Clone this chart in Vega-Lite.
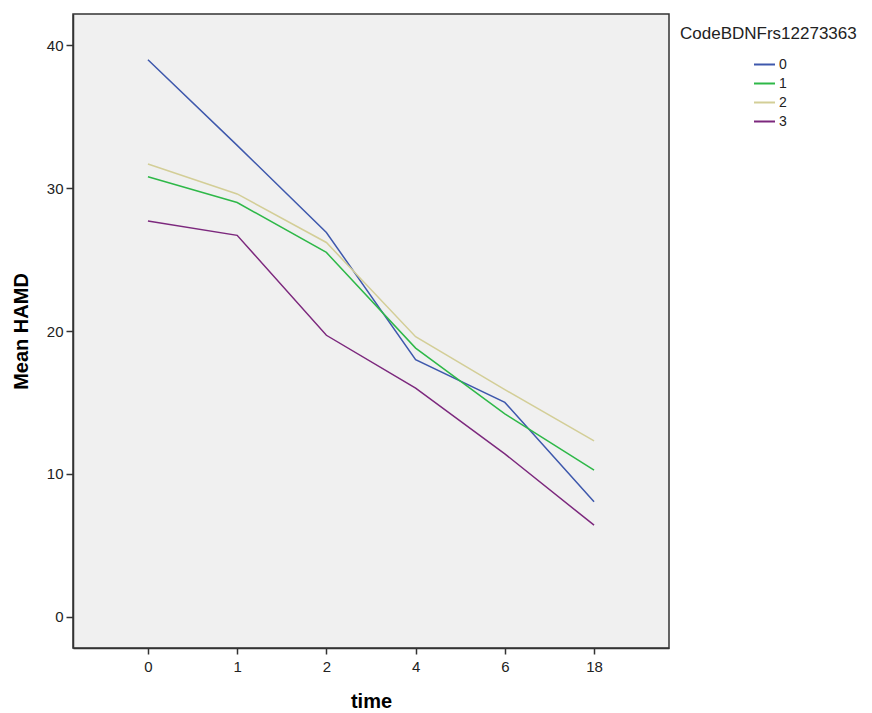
{
  "$schema": "https://vega.github.io/schema/vega-lite/v6.json",
  "autosize": "none",
  "width": 596,
  "height": 634,
  "padding": {"left": 73, "top": 14, "right": 203, "bottom": 65},
  "background": "#ffffff",
  "config": {
    "font": "Liberation Sans",
    "view": {"fill": "#f0f0f0", "stroke": "#333333", "strokeWidth": 1.5}
  },
  "data": {
    "values": [
      {"time": "0", "code": "0", "hamd": 39.0},
      {"time": "1", "code": "0", "hamd": 33.0},
      {"time": "2", "code": "0", "hamd": 26.9},
      {"time": "4", "code": "0", "hamd": 18.0},
      {"time": "6", "code": "0", "hamd": 15.0},
      {"time": "18", "code": "0", "hamd": 8.05},
      {"time": "0", "code": "1", "hamd": 30.8},
      {"time": "1", "code": "1", "hamd": 29.0},
      {"time": "2", "code": "1", "hamd": 25.5},
      {"time": "4", "code": "1", "hamd": 18.8},
      {"time": "6", "code": "1", "hamd": 14.2},
      {"time": "18", "code": "1", "hamd": 10.25},
      {"time": "0", "code": "2", "hamd": 31.7},
      {"time": "1", "code": "2", "hamd": 29.6},
      {"time": "2", "code": "2", "hamd": 26.2},
      {"time": "4", "code": "2", "hamd": 19.6},
      {"time": "6", "code": "2", "hamd": 15.9},
      {"time": "18", "code": "2", "hamd": 12.3},
      {"time": "0", "code": "3", "hamd": 27.7},
      {"time": "1", "code": "3", "hamd": 26.7},
      {"time": "2", "code": "3", "hamd": 19.7},
      {"time": "4", "code": "3", "hamd": 16.0},
      {"time": "6", "code": "3", "hamd": 11.4},
      {"time": "18", "code": "3", "hamd": 6.4}
    ]
  },
  "mark": {"type": "line", "strokeWidth": 1.5},
  "encoding": {
    "x": {
      "field": "time",
      "type": "ordinal",
      "sort": ["0", "1", "2", "4", "6", "18"],
      "scale": {"type": "point", "padding": 0.84},
      "axis": {
        "title": "time",
        "titleFont": "Liberation Sans",
        "titleFontSize": 20,
        "titleFontWeight": "bold",
        "titleColor": "#000000",
        "titlePadding": 17,
        "labelAngle": 0,
        "labelFontSize": 15,
        "labelColor": "#222222",
        "labelPadding": 5,
        "tickSize": 6,
        "tickColor": "#333333",
        "tickWidth": 1.5,
        "domainColor": "#333333",
        "domainWidth": 1.5,
        "grid": false
      }
    },
    "y": {
      "field": "hamd",
      "type": "quantitative",
      "scale": {"domain": [-2.2, 42.2], "nice": false, "zero": false},
      "axis": {
        "title": "Mean HAMD",
        "titleFont": "Liberation Sans",
        "titleFontSize": 20,
        "titleFontWeight": "bold",
        "titleColor": "#000000",
        "titlePadding": 15,
        "values": [0, 10, 20, 30, 40],
        "labelFontSize": 15,
        "labelColor": "#222222",
        "labelPadding": 3,
        "tickSize": 7,
        "tickColor": "#333333",
        "tickWidth": 1.5,
        "domainColor": "#333333",
        "domainWidth": 1.5,
        "grid": false
      }
    },
    "color": {
      "field": "code",
      "type": "nominal",
      "scale": {
        "domain": ["0", "1", "2", "3"],
        "range": ["#3e58ac", "#2eb848", "#d3ce97", "#7c287d"]
      },
      "legend": {
        "title": "CodeBDNFrs12273363",
        "orient": "none",
        "legendX": 607,
        "legendY": 12,
        "titleFont": "Liberation Sans",
        "titleFontSize": 17,
        "titleFontWeight": "normal",
        "titleColor": "#222222",
        "titlePadding": 10,
        "symbolType": "stroke",
        "symbolSize": 441,
        "symbolStrokeWidth": 2,
        "symbolOffset": 73,
        "labelFontSize": 14,
        "labelColor": "#222222",
        "labelOffset": 3,
        "rowPadding": 0
      }
    }
  }
}
